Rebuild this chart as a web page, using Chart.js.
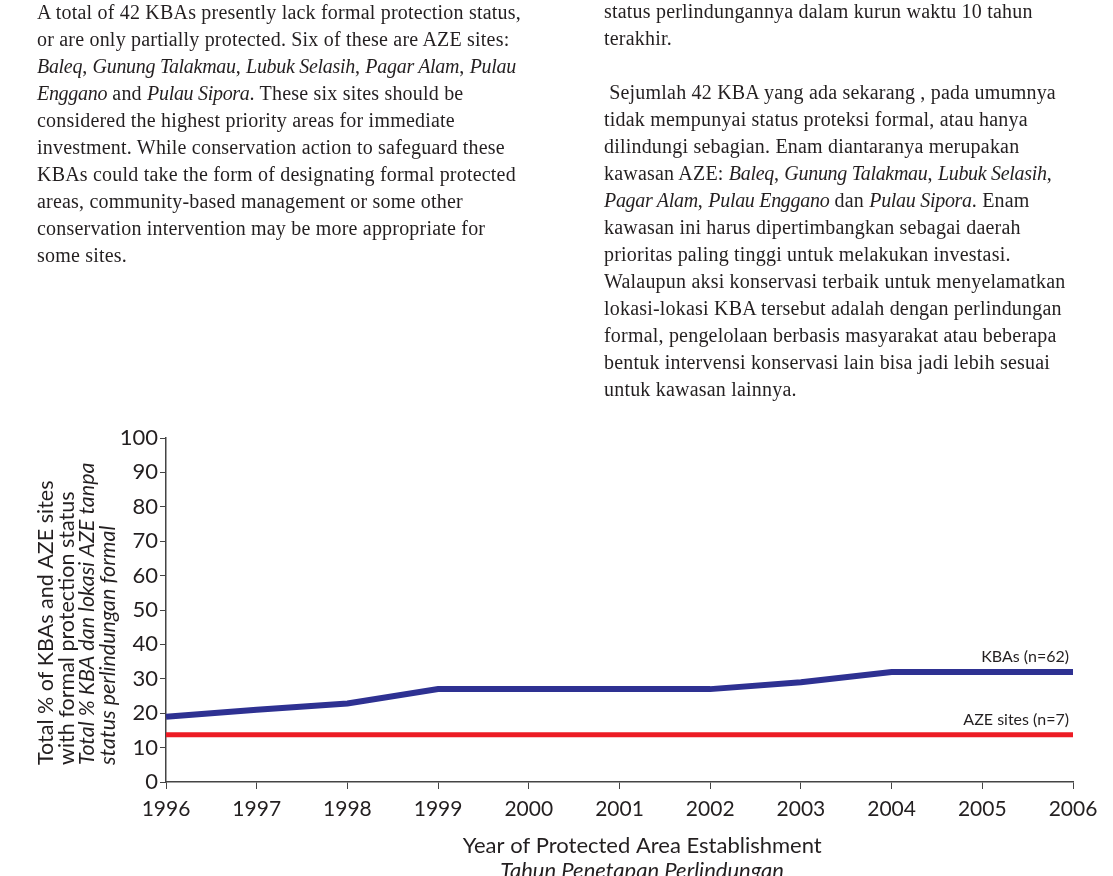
<!DOCTYPE html>
<html>
<head>
<meta charset="utf-8">
<script src="https://cdn.jsdelivr.net/npm/chart.js@4"></script>
<style>
	html, body { margin: 0; padding: 0; background: #fff; }
	body { width: 1113px; height: 876px; position: relative; overflow: hidden; }
	#chart { position: absolute; left: 0; top: 0; }
	.col {
		position: absolute;
		font-family: "Liberation Serif", serif;
		font-size: 20px;
		letter-spacing: 0.2px;
		line-height: 27px;
		color: #231f20;
		white-space: nowrap;
	}
	.col i { font-style: italic; letter-spacing: -0.3px; }
</style>
</head>
<body>
<canvas id="chart" width="1113" height="876"></canvas>

<div class="col" style="left:37px; top:-1px;">
A total of 42 KBAs presently lack formal protection status,<br>
or are only partially protected. Six of these are AZE sites:<br>
<i>Baleq</i>, <i>Gunung Talakmau</i>, <i>Lubuk Selasih</i>, <i>Pagar Alam</i>, <i>Pulau</i><br>
<i>Enggano</i> and <i>Pulau Sipora</i>. These six sites should be<br>
considered the highest priority areas for immediate<br>
investment. While conservation action to safeguard these<br>
KBAs could take the form of designating formal protected<br>
areas, community-based management or some other<br>
conservation intervention may be more appropriate for<br>
some sites.
</div>

<div class="col" style="left:604px; top:-2px;">
status perlindungannya dalam kurun waktu 10 tahun<br>
terakhir.<br>
<br>
&nbsp;Sejumlah 42 KBA yang ada sekarang , pada umumnya<br>
tidak mempunyai status proteksi formal, atau hanya<br>
dilindungi sebagian. Enam diantaranya merupakan<br>
kawasan AZE: <i>Baleq</i>, <i>Gunung Talakmau</i>, <i>Lubuk Selasih</i>,<br>
<i>Pagar Alam</i>, <i>Pulau Enggano</i> dan <i>Pulau Sipora</i>. Enam<br>
kawasan ini harus dipertimbangkan sebagai daerah<br>
prioritas paling tinggi untuk melakukan investasi.<br>
Walaupun aksi konservasi terbaik untuk menyelamatkan<br>
lokasi-lokasi KBA tersebut adalah dengan perlindungan<br>
formal, pengelolaan berbasis masyarakat atau beberapa<br>
bentuk intervensi konservasi lain bisa jadi lebih sesuai<br>
untuk kawasan lainnya.
</div>

<script>
const years = ["1996", "1997", "1998", "1999", "2000", "2001", "2002", "2003", "2004", "2005", "2006"];
const kbaPercent = [19, 21, 22.8, 27, 27, 27, 27, 29, 32, 32, 32];
const azePercent = [13.7, 13.7, 13.7, 13.7, 13.7, 13.7, 13.7, 13.7, 13.7, 13.7, 13.7];
const seriesNames = ["KBAs (n=62)", "AZE sites (n=7)"];
const yTitle = ["Total % of KBAs and AZE sites", "with formal protection status"];
const yTitleId = ["Total % KBA dan lokasi AZE tanpa", "status perlindungan formal"];
const xTitle = "Year of Protected Area Establishment";
const xTitleId = "Tahun Penetapan Perlindungan";

const sans = "Lato, 'Noto Sans', sans-serif";
const ink = "#231f20";

// titles and line labels, drawn on the canvas
const annotations = {
	id: "annotations",
	afterDraw: function (chart) {
		const ctx = chart.ctx;
		const area = chart.chartArea;
		ctx.save();
		ctx.fillStyle = ink;

		// end-of-line labels
		ctx.font = "16px " + sans;
		ctx.textAlign = "right";
		ctx.textBaseline = "middle";
		chart.data.datasets.forEach((ds, i) => {
			const pts = chart.getDatasetMeta(i).data;
			const last = pts[pts.length - 1];
			ctx.fillText(ds.label, last.x - 4, last.y - 15);
		});

		// x title
		ctx.textAlign = "center";
		ctx.font = "22px " + sans;
		const xc = area.left + (area.right - area.left) * 0.525;
		ctx.fillText(xTitle, xc, area.bottom + 64);
		ctx.font = "italic 22px " + sans;
		ctx.fillText(xTitleId, xc, area.bottom + 89);

		// y title (rotated)
		ctx.translate(0, area.bottom - 17);
		ctx.rotate(-Math.PI / 2);
		ctx.textAlign = "left";
		const lines = yTitle.map((t) => [t, ""]).concat(yTitleId.map((t) => [t, "italic "]));
		lines.forEach((l, i) => {
			ctx.font = l[1] + "21.5px " + sans;
			ctx.fillText(l[0], 0, 46 + i * 20.7);
		});
		ctx.restore();
	}
};

new Chart(document.getElementById("chart").getContext("2d"), {
	type: "line",
	data: {
		labels: years,
		datasets: [{
			label: seriesNames[0],
			data: kbaPercent,
			borderColor: "#2e3192",
			borderWidth: 6,
			pointRadius: 0,
			tension: 0
		}, {
			label: seriesNames[1],
			data: azePercent,
			borderColor: "#ed1c24",
			borderWidth: 5,
			pointRadius: 0,
			tension: 0
		}]
	},
	options: {
		responsive: false,
		animation: false,
		layout: {
			padding: { top: 438, right: 40, left: 0, bottom: 0 }
		},
		plugins: {
			legend: { display: false },
			tooltip: { enabled: false }
		},
		scales: {
			x: {
				offset: false,
				grid: {
					drawOnChartArea: false,
					drawTicks: true,
					tickLength: 7,
					color: "#444"
				},
				border: { display: true, color: "#444", width: 1.5 },
				ticks: {
					color: ink,
					font: { family: sans, size: 21 },
					padding: 8,
					maxRotation: 0,
					autoSkip: false
				},
				afterFit: function (scale) {
					scale.height = 94;
				}
			},
			y: {
				min: 0,
				max: 100,
				grid: {
					drawOnChartArea: false,
					drawTicks: true,
					tickLength: 6,
					color: "#444"
				},
				border: { display: true, color: "#444", width: 1.5 },
				ticks: {
					stepSize: 10,
					color: ink,
					font: { family: sans, size: 22 },
					padding: 2
				},
				afterFit: function (scale) {
					scale.width = 166;
				}
			}
		}
	},
	plugins: [annotations]
});
</script>
</body>
</html>
